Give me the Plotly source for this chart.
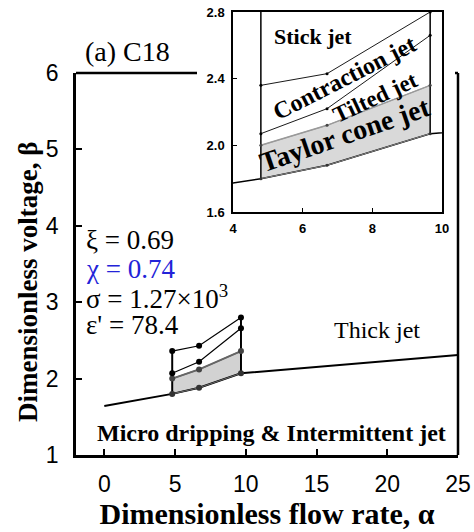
import plotly.graph_objects as go

# ---------------- data ----------------
alpha = [4.8, 6.7, 9.66]                 # measured flow-rate points
lower = [1.80, 1.88, 2.07]               # onset of Taylor cone jet
taylor_upper = [2.00, 2.12, 2.36]        # Taylor cone -> tilted
tilted_upper = [2.07, 2.22, 2.66]        # tilted -> contraction
contraction_upper = [2.36, 2.43, 2.80]   # contraction -> stick
boundary_alpha = [0, 4.8, 6.7, 9.66, 25] # dripping / jet boundary
boundary_beta = [1.64, 1.80, 1.88, 2.07, 2.31]

x_ticks = [0, 5, 10, 15, 20, 25]
y_ticks = [1, 2, 3, 4, 5, 6]
inset_x_ticks = [4, 6, 8, 10]
inset_y_ticks = [1.6, 2.0, 2.4, 2.8]
inset_y_labels = ["1.6", "2.0", "2.4", "2.8"]

MAIN_X = [-2, 25]
MAIN_Y = [1, 6]
INSET_X = [4, 10]
INSET_Y = [1.6, 2.8]

SERIF = "Liberation Serif"
SANS = "Liberation Sans"

fig = go.Figure()

def add_set(xa, ya, lw_main, lw_thin, msize, vtop_left, vtop_right, fillc, edgec):
    # gray Taylor-cone region
    fig.add_trace(go.Scatter(x=alpha, y=lower, mode="lines", line=dict(color=edgec, width=lw_thin),
                             xaxis=xa, yaxis=ya, showlegend=False, hoverinfo="skip"))
    fig.add_trace(go.Scatter(x=alpha, y=taylor_upper, mode="lines", fill="tonexty", fillcolor=fillc,
                             line=dict(color=edgec, width=lw_main), xaxis=xa, yaxis=ya,
                             showlegend=False, hoverinfo="skip"))
    # boundary line
    fig.add_trace(go.Scatter(x=boundary_alpha, y=boundary_beta, mode="lines",
                             line=dict(color="black", width=lw_main), xaxis=xa, yaxis=ya, showlegend=False))
    # verticals
    fig.add_trace(go.Scatter(x=[alpha[0], alpha[0]], y=[lower[0], vtop_left], mode="lines",
                             line=dict(color="black", width=lw_main), xaxis=xa, yaxis=ya, showlegend=False))
    fig.add_trace(go.Scatter(x=[alpha[-1], alpha[-1]], y=[lower[-1], vtop_right], mode="lines",
                             line=dict(color="black", width=lw_main), xaxis=xa, yaxis=ya, showlegend=False))
    # transition lines
    for ys, col in [(lower, "#333333"), (taylor_upper, "#444444"), (tilted_upper, "black"), (contraction_upper, "black")]:
        fig.add_trace(go.Scatter(x=alpha, y=ys, mode="lines+markers",
                                 line=dict(color="black" if col == "black" else edgec, width=lw_thin),
                                 marker=dict(color=col, size=msize),
                                 xaxis=xa, yaxis=ya, showlegend=False))

# main plot
add_set("x", "y", 2, 1.2, 6, contraction_upper[0], contraction_upper[-1], "#d2d2d2", "#666666")
# inset
add_set("x2", "y2", 1.5, 0.9, 3, INSET_Y[1] + 0.2, INSET_Y[1] + 0.2, "#d9d9d9", "#9a9a9a")

# ---------------- layout ----------------
L, R, T, B = 76, 16, 12, 77
W, H = 474, 532
pw, ph = W - L - R, H - T - B
main_top = (455 - 73) / ph

axis_common = dict(showgrid=False, zeroline=False, showline=True, linecolor="black",
                   ticks="inside", tickcolor="black")

fig.update_layout(
    width=W, height=H, margin=dict(l=L, r=R, t=T, b=B),
    plot_bgcolor="white", paper_bgcolor="white",
    xaxis=dict(domain=[0, 1], range=MAIN_X, tickvals=x_ticks, anchor="y",
               linewidth=2.5, ticklen=6, tickwidth=1.5,
               tickfont=dict(family=SANS, size=23, color="black"), ticklabelstandoff=7,
               title=dict(text="<b>Dimensionless flow rate, α</b>", font=dict(family=SERIF, size=30, color="black"),
                          standoff=1),
               automargin=False, **axis_common),
    yaxis=dict(domain=[0, main_top], range=MAIN_Y, tickvals=y_ticks, anchor="x",
               linewidth=2.5, ticklen=6, tickwidth=1.5,
               tickfont=dict(family=SANS, size=23, color="black"), ticklabelstandoff=10,
               automargin=False, **axis_common),
    xaxis2=dict(domain=[(233 - L) / pw, (442 - L) / pw], range=INSET_X, tickvals=inset_x_ticks, anchor="y2",
                linewidth=1.5, mirror=True, ticklen=4, tickwidth=1,
                tickfont=dict(family=SANS, size=13, color="black", weight="bold"), ticklabelstandoff=4,
                automargin=False, **axis_common),
    yaxis2=dict(domain=[(455 - 212) / ph, 1.0], range=INSET_Y, tickvals=inset_y_ticks, ticktext=inset_y_labels,
                anchor="x2", linewidth=1.5, mirror=True, ticklen=4, tickwidth=1,
                tickfont=dict(family=SANS, size=13, color="black", weight="bold"), ticklabelstandoff=4,
                automargin=False, **axis_common),
)

# main frame top/right (partially hidden by the inset)
frame = dict(color="black", width=2.5)
fig.add_shape(type="line", xref="paper", yref="paper", x0=0, x1=(197 - L) / pw, y0=main_top, y1=main_top, line=frame)
fig.add_shape(type="line", xref="paper", yref="paper", x0=(455 - L) / pw, x1=1, y0=main_top, y1=main_top, line=frame)
fig.add_shape(type="line", xref="paper", yref="paper", x0=1, x1=1, y0=0, y1=main_top, line=frame)

def ann(text, x, y, size, xref="x", yref="y", color="black", anchor="center", angle=0):
    fig.add_annotation(text=text, x=x, y=y, xref=xref, yref=yref, showarrow=False,
                       xanchor=anchor, yanchor="middle", textangle=angle,
                       font=dict(family=SERIF, size=size, color=color))

# titles
ann("(a) C18", (83 - L) / pw, (455 - 51) / ph, 28, xref="paper", yref="paper", anchor="left")
ann("<b>Dimensionless voltage, β</b>", (28 - L) / pw, (455 - 282) / ph, 27, xref="paper", yref="paper", angle=-90)

ann("ξ = 0.69", -1.42, 3.81, 27, anchor="left")
ann("χ = 0.74", -1.42, 3.43, 27, anchor="left", color="#2323d8")
ann("σ = 1.27×10<sup>3</sup>", -1.42, 3.07, 27, anchor="left")
ann("ε' = 78.4", -1.42, 2.70, 27, anchor="left")
ann("Thick jet", 19.3, 2.64, 24)
ann("<b>Micro dripping &amp; Intermittent jet</b>", 11.84, 1.29, 24)

ann("<b>Stick jet</b>", 6.30, 2.653, 22, xref="x2", yref="y2")
ann("<b>Contraction jet</b>", 7.19, 2.406, 24, xref="x2", yref="y2", angle=-27)
ann("<b>Tilted jet</b>", 8.08, 2.29, 23, xref="x2", yref="y2", angle=-25)
ann("<b>Taylor cone jet</b>", 7.22, 2.063, 28, xref="x2", yref="y2", angle=-19)

fig.write_html("out.html")
